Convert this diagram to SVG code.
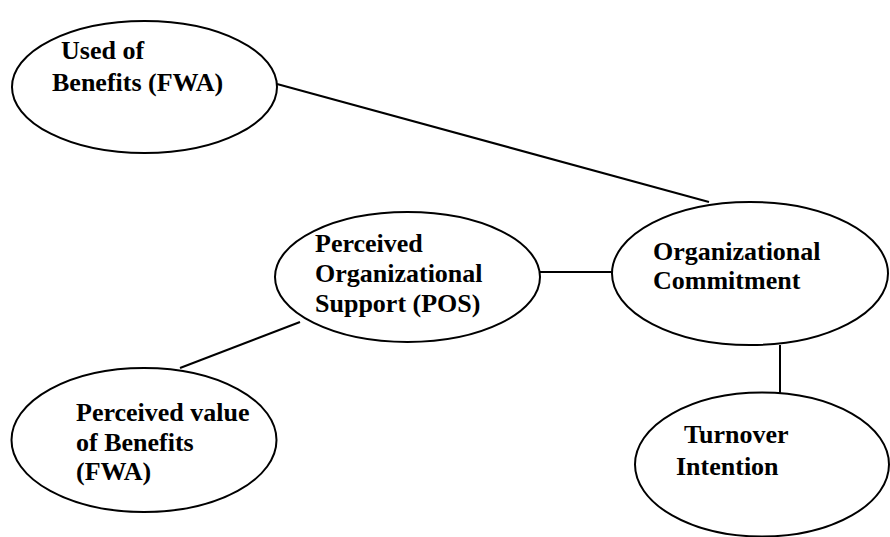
<svg xmlns="http://www.w3.org/2000/svg" width="890" height="537" viewBox="0 0 890 537">
<style>
.n{fill:#fff;stroke:#000;stroke-width:2}
.t{font-family:"Liberation Serif","Times New Roman",serif;font-weight:bold;font-size:26px;fill:#000}
.c{stroke:#000;stroke-width:2;fill:none}
</style>
<rect width="890" height="537" fill="#fff"/>
<g id="connectors">
<line class="c" x1="277" y1="84" x2="709" y2="202"/>
<line class="c" x1="540" y1="272" x2="612" y2="272"/>
<line class="c" x1="180" y1="368" x2="300" y2="322"/>
<line class="c" x1="780" y1="345" x2="780" y2="393"/>
</g>
<g id="used">
<ellipse class="n" cx="144.5" cy="87" rx="132.5" ry="66"/>
<text class="t" x="61" y="59">Used of</text>
<text class="t" x="52" y="91">Benefits (FWA)</text>
</g>
<g id="pos">
<ellipse class="n" cx="407.5" cy="277" rx="132.5" ry="65"/>
<text class="t" x="315" y="252">Perceived</text>
<text class="t" x="315" y="282">Organizational</text>
<text class="t" x="315" y="312">Support (POS)</text>
</g>
<g id="commitment">
<ellipse class="n" cx="750" cy="273.5" rx="138" ry="71.5"/>
<text class="t" x="653" y="260">Organizational</text>
<text class="t" x="653" y="289">Commitment</text>
</g>
<g id="value">
<ellipse class="n" cx="144" cy="440" rx="132.5" ry="72"/>
<text class="t" x="76" y="421">Perceived value</text>
<text class="t" x="76" y="451">of Benefits</text>
<text class="t" x="76" y="480">(FWA)</text>
</g>
<g id="turnover">
<ellipse class="n" cx="762" cy="464.5" rx="127" ry="72"/>
<text class="t" x="684" y="443">Turnover</text>
<text class="t" x="676" y="475">Intention</text>
</g>
</svg>
